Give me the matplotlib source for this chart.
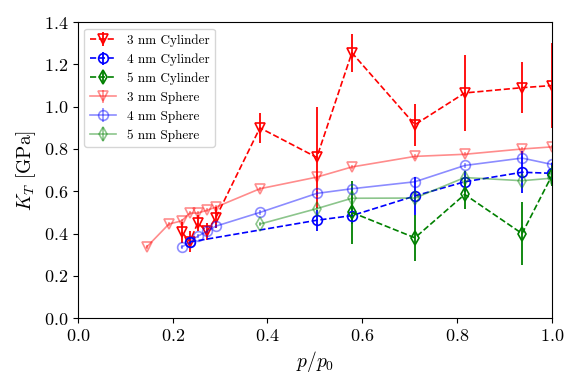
import matplotlib
matplotlib.use("Agg")
import matplotlib.pyplot as plt

plt.rcParams['font.family'] = ['cmr10', 'DejaVu Serif']
plt.rcParams['mathtext.fontset'] = 'cm'
plt.rcParams['axes.formatter.use_mathtext'] = True

### données
x_all = [0.145, 0.192, 0.219, 0.236, 0.253, 0.272, 0.291, 0.384, 0.504, 0.578, 0.711, 0.816, 0.937, 1.0]

# cylindres
x_cyl3 = [0.219, 0.236, 0.253, 0.272, 0.291, 0.384, 0.504, 0.578, 0.711, 0.816, 0.937, 1.0]
y_cyl3 = [0.407, 0.362, 0.45, 0.41, 0.475, 0.90, 0.76, 1.255, 0.915, 1.065, 1.09, 1.10]
e_cyl3 = [0.05, 0.05, 0.04, 0.04, 0.05, 0.07, 0.24, 0.09, 0.10, 0.18, 0.12, 0.20]

x_cyl4 = [0.236, 0.504, 0.578, 0.711, 0.816, 0.937, 1.0]
y_cyl4 = [0.36, 0.463, 0.485, 0.578, 0.645, 0.69, 0.685]
e_cyl4 = [0.03, 0.05, 0.04, 0.09, 0.05, 0.10, 0.05]

x_cyl5 = [0.578, 0.711, 0.816, 0.937, 1.0]
y_cyl5 = [0.50, 0.38, 0.585, 0.40, 0.675]
e_cyl5 = [0.15, 0.11, 0.07, 0.15, 0.05]

# sphères
y_sph3 = [0.336, 0.445, 0.46, 0.497, 0.497, 0.51, 0.525, 0.612, 0.667, 0.715, 0.765, 0.775, 0.80, 0.81]
x_sph4 = [0.219, 0.236, 0.253, 0.272, 0.291, 0.384, 0.504, 0.578, 0.711, 0.816, 0.937, 1.0]
y_sph4 = [0.336, 0.36, 0.388, 0.41, 0.435, 0.50, 0.59, 0.612, 0.645, 0.722, 0.757, 0.727]
x_sph5 = [0.384, 0.504, 0.578, 0.711, 0.816, 0.937, 1.0]
y_sph5 = [0.445, 0.518, 0.567, 0.568, 0.665, 0.65, 0.662]

fig = plt.figure(figsize=(5.81, 3.88), dpi=100)
ax = fig.add_axes([0.134, 0.180, 0.816, 0.763])

kw_cyl = dict(ls='--', lw=1.2, ms=7, mfc='none', mew=1.2, elinewidth=1.3)
ax.errorbar(x_cyl3, y_cyl3, yerr=e_cyl3, color='red', marker='v', label='3 nm Cylinder', **kw_cyl)
ax.errorbar(x_cyl4, y_cyl4, yerr=e_cyl4, color='blue', marker='o', label='4 nm Cylinder', **kw_cyl)
ax.errorbar(x_cyl5, y_cyl5, yerr=e_cyl5, color='green', marker='d', label='5 nm Cylinder', **kw_cyl)

kw_sph = dict(ls='-', lw=1.2, ms=7, mfc='none', mew=1.2, alpha=0.45, elinewidth=1.2)
ax.errorbar(x_all, y_sph3, yerr=[0.01] * len(x_all), color='red', marker='v', label='3 nm Sphere', **kw_sph)
ax.errorbar(x_sph4, y_sph4, yerr=[0.01] * len(x_sph4), color='blue', marker='o', label='4 nm Sphere', **kw_sph)
ax.errorbar(x_sph5, y_sph5, yerr=[0.01] * len(x_sph5), color='green', marker='d', label='5 nm Sphere', **kw_sph)

ax.set_xlim(0, 1.0)
ax.set_ylim(0, 1.4)
ax.set_xlabel('$p/p_0$', fontsize=14)
ax.set_ylabel('$K_T$ [GPa]', fontsize=14)
ax.tick_params(labelsize=13)
ax.legend(loc='upper left', fontsize=9.5)

fig.savefig('out.png', dpi=100)
